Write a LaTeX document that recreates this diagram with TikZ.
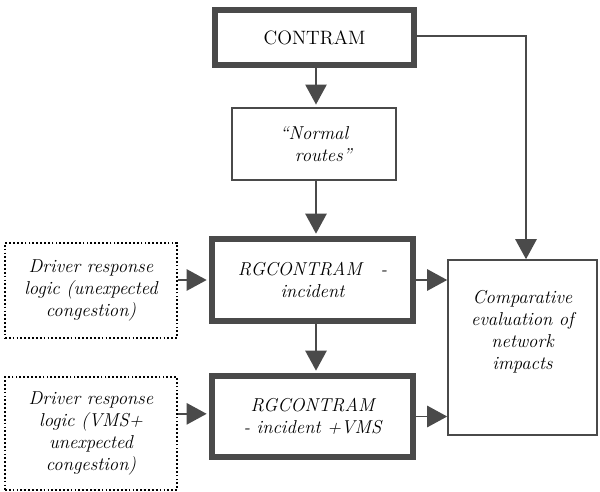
\documentclass[tikz,border=0pt]{standalone}
\usetikzlibrary{arrows.meta}
\definecolor{edge}{HTML}{4A4A4A}
\begin{document}
\begin{tikzpicture}[x=0.75pt,y=-0.75pt,
  box/.style={rectangle,fill=white,align=center,inner sep=0pt},
  thickbox/.style={box,draw=edge,line width=4pt},
  thinbox/.style={box,draw=edge,line width=1.2pt},
  dotbox/.style={box,draw=black,line width=1.3pt,dash pattern=on 1.3pt off 1.6pt},
  txt/.style={font=\fontsize{14}{16.5}\selectfont\itshape,align=center},
  conn/.style={draw=edge,line width=1.2pt,-{Triangle[length=15pt,width=16pt,fill=edge]}},
  intothick/.style={conn,shorten >=2pt}]
\useasboundingbox (0,0) rectangle (600,492);
\coordinate (col) at (316,0);
\coordinate (rcol) at (526,0);
\node[thickbox,minimum width=149.25pt,minimum height=41.25pt,font=\fontsize{14.5}{17}\selectfont] (contram) at (314.5,37.5) {CONTRAM};
\node[thinbox,minimum width=123pt,minimum height=54pt,txt] (normal) at (314,144) {``Normal\\ \quad routes''};
\node[thickbox,minimum width=150.75pt,minimum height=61.5pt,txt] (rg1) at (312.5,280) {RGCONTRAM\quad -\\incident};
\node[thickbox,minimum width=150.75pt,minimum height=60.75pt,txt] (rg2) at (312.5,416.5) {RGCONTRAM\\- incident +VMS};
\node[thinbox,minimum width=111.75pt,minimum height=131.25pt] (comp) at (522.5,347.5) {};
\node[txt] (comptext) at (522.5,332) {Comparative\\evaluation of\\network\\impacts};
\node[dotbox,minimum width=129pt,minimum height=71.25pt,txt] (d1) at (91,290.5) {Driver response\\logic (unexpected\\congestion)};
\node[dotbox,minimum width=129pt,minimum height=84.75pt,txt] (d2) at (91,433.5) {Driver response\\logic (VMS+\\unexpected\\congestion)};
\draw[intothick] (contram.south -| col) -- (normal.north -| col);
\draw[intothick] (normal.south -| col) -- (rg1.north -| col);
\draw[intothick] (rg1.south -| col) -- (rg2.north -| col);
\draw[conn] ([yshift=1pt]contram.east) -| (comp.north -| rcol);
\draw[conn] (rg1.east) -- (rg1.east -| comp.west);
\draw[conn] (rg2.east) -- (rg2.east -| comp.west);
\draw[intothick] (d1.east |- rg1.west) -- (rg1.west);
\draw[intothick] ([yshift=2pt]d2.east |- rg2.west) -- ([yshift=2pt]rg2.west);
\end{tikzpicture}
\end{document}
